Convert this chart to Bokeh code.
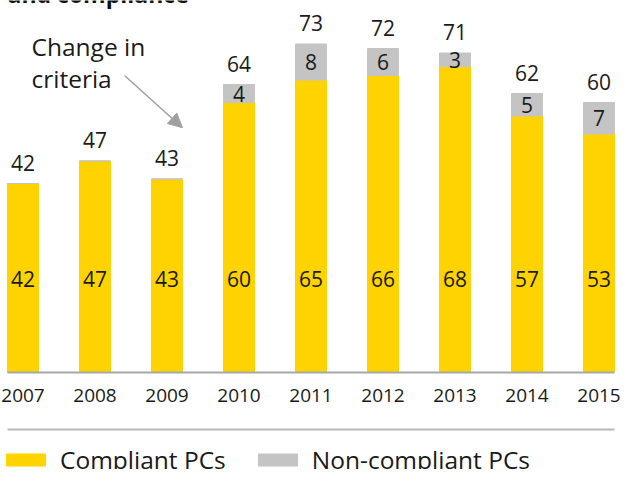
from bokeh.plotting import figure
from bokeh.models import ColumnDataSource, Range1d, Label, Arrow, NormalHead, Legend, LegendItem
from bokeh.core.properties import value
from bokeh.embed import file_html
from bokeh.resources import INLINE

# ---- data ----
years = ["2007", "2008", "2009", "2010", "2011", "2012", "2013", "2014", "2015"]
compliant = [42, 47, 43, 60, 65, 66, 68, 57, 53]
non_compliant = [0, 0, 0, 4, 8, 6, 3, 5, 7]
series_names = ["Compliant PCs", "Non-compliant PCs"]
annotation_lines = ["Change in", "criteria"]
title_fragment = "and compliance"

# ---- styles ----
YELLOW = "#FFD300"
GRAY = "#C4C4C4"
TEXT = "#1a1a1a"
LINE = "#A8A8A8"
ARROW = "#A0A0A0"
FONT = "Open Sans"
BAR_W = 0.43

idx = list(range(len(years)))
totals = [c + n for c, n in zip(compliant, non_compliant)]

src = ColumnDataSource(dict(
    x=idx, year=years, compliant=compliant, non=non_compliant, total=totals,
    total_label=[str(t) for t in totals],
    comp_label=[str(c) for c in compliant],
))
nz = [i for i, n in enumerate(non_compliant) if n > 0]
src_non = ColumnDataSource(dict(
    x=[idx[i] for i in nz],
    mid=[compliant[i] + non_compliant[i] / 2 for i in nz],
    non_label=[str(non_compliant[i]) for i in nz],
))

p = figure(width=620, height=469, output_backend="svg", toolbar_location=None,
           x_range=Range1d(-0.3125, 8.2986), y_range=Range1d(-21.556, 82.667),
           x_axis_location=None, y_axis_location=None, min_border=0,
           outline_line_color=None)
p.background_fill_color = "white"
p.border_fill_color = "white"
for g in p.grid:
    g.visible = False

r1 = p.vbar(x="x", top="compliant", bottom=0, width=BAR_W, color=YELLOW, source=src)
r2 = p.vbar(x="x", bottom="compliant", top="total", width=BAR_W, color=GRAY, source=src)

# totals above bars
p.text(x="x", y="total", text="total_label", source=src, text_align="center",
       text_baseline="middle", y_offset=-21, text_font=value(FONT),
       text_font_size="21px", text_color=TEXT)
# compliant values inside bars
p.text(x="x", y=20.7, text="comp_label", source=src, text_align="center",
       text_baseline="middle", text_font=value(FONT), text_font_size="21px",
       text_color=TEXT)
# non-compliant values in gray segments
p.text(x="x", y="mid", text="non_label", source=src_non, text_align="center",
       text_baseline="middle", text_font=value(FONT), text_font_size="21px",
       text_color=TEXT)
# year labels
p.text(x="x", y=0, text="year", source=src, text_align="center",
       text_baseline="middle", y_offset=23, text_font=value(FONT),
       text_font_size="19px", text_color=TEXT)

# baseline and separator rule, spanning the bars
x_left = idx[0] - BAR_W / 2
x_right = idx[-1] + BAR_W / 2
p.segment(x0=x_left, x1=x_right, y0=0, y1=0, line_color=LINE, line_width=2)
p.segment(x0=x_left, x1=x_right, y0=-12.67, y1=-12.67, line_color="#B8B8B8", line_width=2)

# clipped title line at the very top
p.add_layout(Label(x=-0.215, y=84.2, text=title_fragment, text_baseline="alphabetic",
                   text_font=FONT, text_font_style="bold", text_font_size="23px",
                   text_color="#111111"))

# annotation
p.add_layout(Label(x=0.118, y=72.44, text=annotation_lines[0], text_baseline="alphabetic",
                   text_font=FONT, text_font_size="24.5px", text_color=TEXT))
p.add_layout(Label(x=0.118, y=65.32, text=annotation_lines[1], text_baseline="alphabetic",
                   text_font=FONT, text_font_size="24.5px", text_color=TEXT))
p.add_layout(Arrow(end=NormalHead(size=14, fill_color=ARROW, line_color=ARROW),
                   x_start=1.41, y_start=66.0, x_end=2.215, y_end=54.4,
                   line_color=ARROW, line_width=1.5))

legend = Legend(items=[LegendItem(label=series_names[0], renderers=[r1]),
                       LegendItem(label=series_names[1], renderers=[r2])],
                orientation="horizontal", location=(1, -7),
                glyph_width=49, glyph_height=15, label_standoff=10, spacing=27,
                padding=0, margin=0, border_line_alpha=0, background_fill_alpha=0,
                label_text_font=FONT, label_text_font_size="24.5px",
                label_text_color=TEXT, label_height=15)
p.add_layout(legend, "center")

open("out.html", "w").write(file_html(p, INLINE))
